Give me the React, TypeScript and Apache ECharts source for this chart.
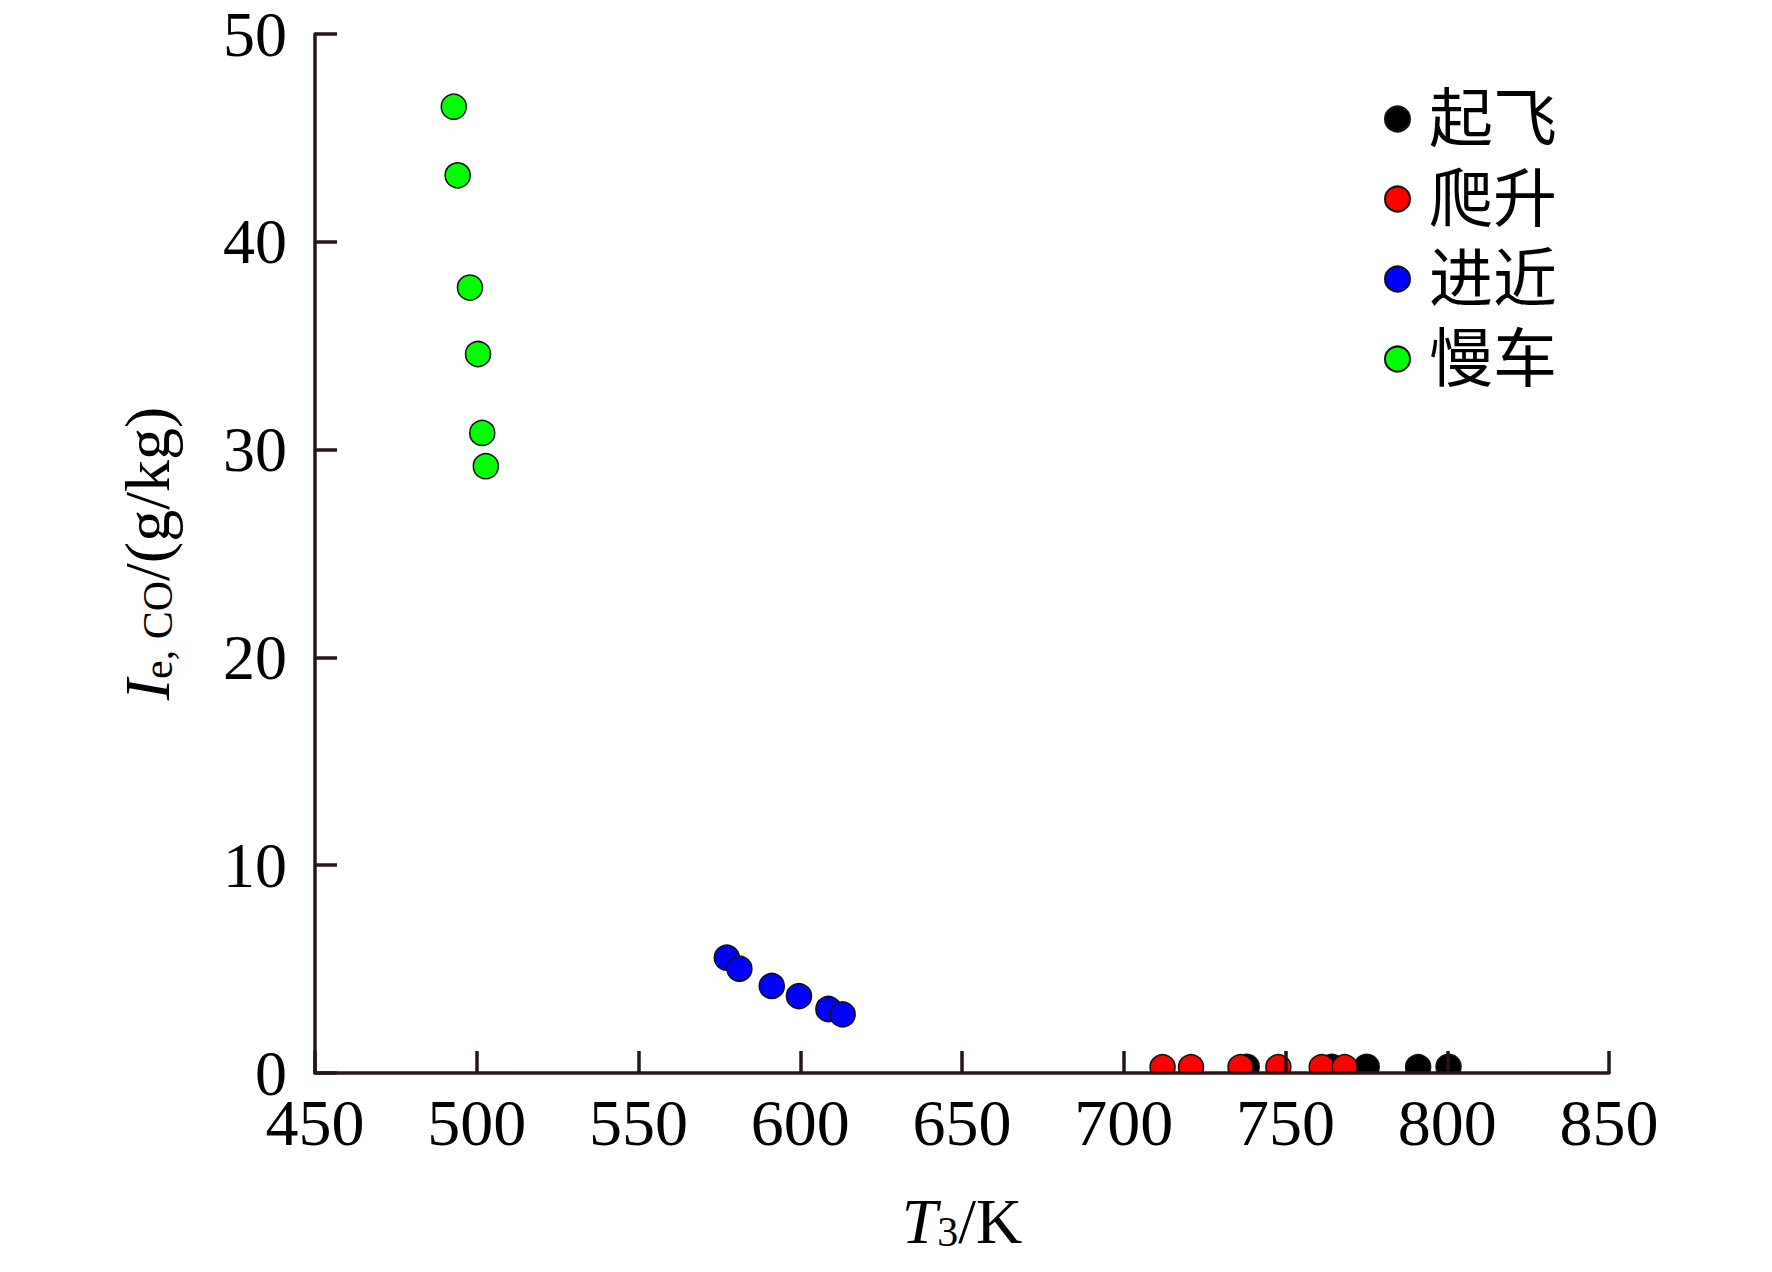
import React, { useEffect, useRef } from "react";
import * as echarts from "echarts";

const seriesNames = ["起飞", "爬升", "进近", "慢车"];
const seriesColors = ["#000000", "#ff0000", "#0000ff", "#00ff00"];

const takeoffT3 = [738.0, 764.3, 775.1, 791.0, 800.4];
const takeoffCO = [0.3, 0.3, 0.3, 0.28, 0.3];

const climbT3 = [712.0, 720.8, 736.1, 747.8, 761.2, 768.3];
const climbCO = [0.28, 0.28, 0.28, 0.28, 0.28, 0.28];

const approachT3 = [577.3, 581.2, 591.2, 599.6, 608.7, 613.1];
const approachCO = [5.55, 5.02, 4.19, 3.7, 3.08, 2.82];

const idleT3 = [492.9, 494.1, 497.9, 500.4, 501.7, 502.8];
const idleCO = [46.5, 43.2, 37.8, 34.6, 30.8, 29.2];

const xTicks = { min: 450, max: 850, interval: 50 };
const yTicks = { min: 0, max: 50, interval: 10 };

const serif = "'Liberation Serif', 'Times New Roman', 'Noto Sans CJK SC', serif";
const axisColor = "#231815";

export default function App() {
  const ref = useRef<HTMLDivElement>(null);
  useEffect(() => {
    if (!ref.current) return;
    const chart = echarts.init(ref.current, undefined, { renderer: "svg" });
    const groups = [
      [takeoffT3, takeoffCO],
      [climbT3, climbCO],
      [approachT3, approachCO],
      [idleT3, idleCO],
    ];
    const gridLeft = 315;
    const gridRight = 163;
    const gridTop = 34;
    const gridBottom = 199;
    const rich = {
      i: { fontFamily: serif, fontSize: 64, fontStyle: "italic", color: "#000", lineHeight: 64, verticalAlign: "middle" },
      sub: { fontFamily: serif, fontSize: 42, color: "#000", lineHeight: 32, verticalAlign: "bottom" },
      n: { fontFamily: serif, fontSize: 64, color: "#000", lineHeight: 64, verticalAlign: "middle" },
    };
    chart.setOption({
      animation: false,
      backgroundColor: "#ffffff",
      grid: { left: gridLeft, right: gridRight, top: gridTop, bottom: gridBottom, containLabel: false },
      legend: {
        orient: "vertical",
        left: 1379,
        top: 82,
        itemWidth: 25,
        itemHeight: 25,
        itemGap: 16,
        icon: "circle",
        data: seriesNames,
        textStyle: {
          fontFamily: serif,
          fontSize: 64,
          lineHeight: 64,
          color: "#000",
          padding: [0, 0, 0, 14],
        },
      },
      xAxis: {
        type: "value",
        min: xTicks.min,
        max: xTicks.max,
        interval: xTicks.interval,
        z: 10,
        axisLine: { show: true, onZero: false, lineStyle: { color: axisColor, width: 3.5 } },
        axisTick: { show: true, inside: true, length: 22, lineStyle: { color: axisColor, width: 3.5 } },
        axisLabel: { fontFamily: serif, fontSize: 66, color: "#000", margin: 16 },
        splitLine: { show: false },
        name: "{i|T}{sub|3}{n|/K}",
        nameLocation: "middle",
        nameGap: 116,
        nameTextStyle: { rich },
      },
      yAxis: {
        type: "value",
        min: yTicks.min,
        max: yTicks.max,
        interval: yTicks.interval,
        z: 10,
        axisLine: { show: true, onZero: false, lineStyle: { color: axisColor, width: 3.5 } },
        axisTick: { show: true, inside: true, length: 22, lineStyle: { color: axisColor, width: 3.5 } },
        axisLabel: { fontFamily: serif, fontSize: 64, color: "#000", margin: 28 },
        splitLine: { show: false },
        name: "{i|I}{sub|e, CO}{n|/(g/kg)}",
        nameLocation: "middle",
        nameGap: 136,
        nameRotate: 90,
        nameTextStyle: { rich },
      },
      graphic: [
        {
          type: "rect",
          z: 5,
          silent: true,
          shape: { x: gridLeft + 2, y: 1272 - gridBottom + 1, width: 1772 - gridLeft - gridRight, height: 14 },
          style: { fill: "#ffffff" },
        },
      ],
      series: groups.map((g, i) => ({
        name: seriesNames[i],
        type: "scatter",
        symbol: "circle",
        symbolSize: 25,
        z: 2,
        clip: false,
        itemStyle: {
          color: seriesColors[i],
          borderColor: "#111111",
          borderWidth: 1.5,
          opacity: 1,
        },
        data: g[0].map((x, k) => [x, g[1][k]]),
      })),
    });
    return () => chart.dispose();
  }, []);
  return (
    <div
      ref={ref}
      style={{ position: "absolute", left: 0, top: 0, width: 1772, height: 1272, background: "#fff" }}
    />
  );
}
